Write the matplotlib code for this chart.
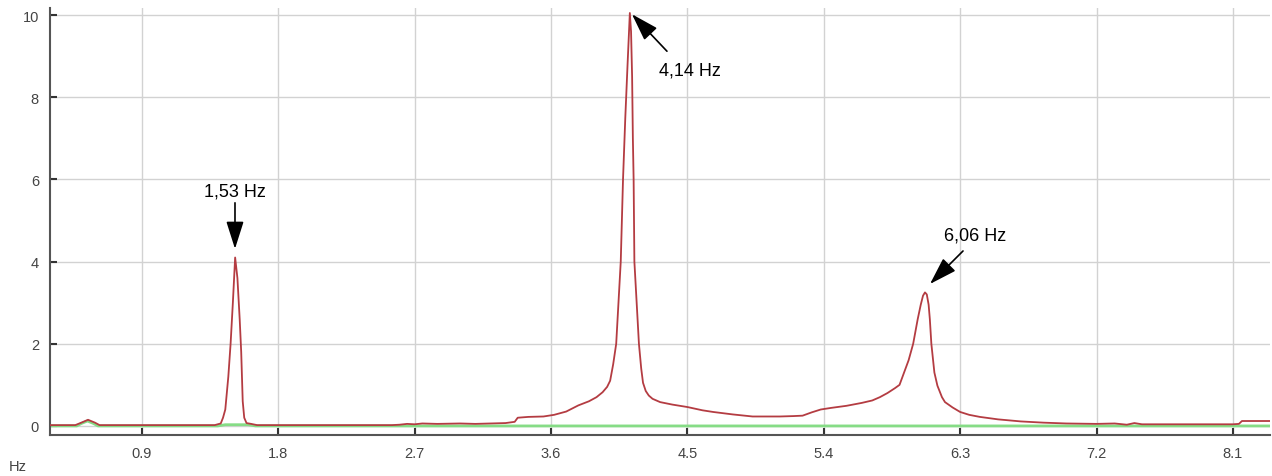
import matplotlib.pyplot as plt

plt.rcParams['font.family'] = ['Liberation Sans', 'DejaVu Sans']

# spectrum (Hz, amplitude)
freq = [0.293, 0.46, 0.50, 0.544, 0.59, 0.62, 1.38, 1.42, 1.435, 1.45, 1.47, 1.485,
        1.50, 1.515, 1.53, 1.545, 1.555, 1.565, 1.575, 1.59, 1.62, 1.66, 2.55, 2.6,
        2.65, 2.7, 2.75, 2.85, 3.0, 3.1, 3.2, 3.3, 3.36, 3.38, 3.45, 3.55, 3.62, 3.7,
        3.78, 3.85, 3.9, 3.94, 3.97, 3.99, 4.01, 4.03, 4.045, 4.06, 4.075, 4.09, 4.105, 4.12,
        4.128, 4.135, 4.14, 4.145, 4.15, 4.165, 4.18, 4.195, 4.207, 4.225, 4.245, 4.27, 4.32, 4.4,
        4.5, 4.6, 4.67, 4.8, 4.93, 5.11, 5.2, 5.26, 5.32, 5.38, 5.45, 5.55, 5.65, 5.72,
        5.77, 5.82, 5.87, 5.90, 5.93, 5.96, 5.99, 6.02, 6.04, 6.055, 6.068, 6.08, 6.092, 6.1, 6.11,
        6.13, 6.15, 6.18, 6.2, 6.25, 6.3, 6.36, 6.43, 6.55, 6.7, 6.85, 7.0, 7.2, 7.32,
        7.4, 7.45, 7.5, 7.8, 8.1, 8.14, 8.16, 8.35]
amp = [0.02, 0.02, 0.08, 0.15, 0.08, 0.02, 0.02, 0.06, 0.2, 0.4, 1.2, 2.0,
       3.0, 4.1, 3.6, 2.6, 1.8, 0.6, 0.2, 0.07, 0.05, 0.02, 0.02, 0.03,
       0.05, 0.04, 0.06, 0.05, 0.06, 0.05, 0.06, 0.07, 0.1, 0.2, 0.22, 0.23, 0.27, 0.35,
       0.5, 0.6, 0.7, 0.82, 0.95, 1.1, 1.5, 2.0, 3.0, 4.0, 6.0, 7.5, 8.8, 10.05,
       9.6, 8.5, 7.0, 6.0, 4.0, 3.0, 2.0, 1.4, 1.05, 0.85, 0.74, 0.66, 0.58, 0.52,
       0.46, 0.38, 0.34, 0.28, 0.23, 0.23, 0.24, 0.25, 0.33, 0.4, 0.44, 0.49, 0.56, 0.62,
       0.7, 0.8, 0.92, 1.0, 1.3, 1.6, 2.0, 2.6, 2.95, 3.17, 3.25, 3.2, 2.95, 2.6, 2.0,
       1.3, 0.98, 0.7, 0.58, 0.45, 0.34, 0.27, 0.22, 0.16, 0.11, 0.08, 0.06, 0.05, 0.06,
       0.03, 0.07, 0.04, 0.04, 0.04, 0.05, 0.12, 0.12]

ref_freq = [0.293, 0.47, 0.50, 0.54, 0.58, 0.61, 1.40, 1.45, 1.60, 1.65, 8.35]
ref_amp = [0.0, 0.0, 0.06, 0.12, 0.06, 0.0, 0.0, 0.03, 0.03, 0.0, 0.0]

xticks = [0.9, 1.8, 2.7, 3.6, 4.5, 5.4, 6.3, 7.2, 8.1]
yticks = [0, 2, 4, 6, 8, 10]

# peaks: label, arrow tip, arrow tail, text position
peaks = [('1,53 Hz', (1.514, 4.31), (1.514, 5.43), (1.514, 5.72)),
         ('4,14 Hz', (4.134, 10.02), (4.365, 9.12), (4.517, 8.66)),
         ('6,06 Hz', (6.101, 3.455), (6.319, 4.258), (6.398, 4.647))]

fig = plt.figure(figsize=(12.72, 4.77), dpi=100)
ax = fig.add_axes([0.0393, 0.086, 0.959, 0.895])

ax.plot(ref_freq, ref_amp, color='#86dc86', lw=2, zorder=2)
ax.plot(freq, amp, color='#b43c42', lw=1.3, zorder=3)

for label, tip, tail, pos in peaks:
    ax.annotate('', xy=tip, xytext=tail,
                arrowprops=dict(arrowstyle='-|>,head_length=0.85,head_width=0.27',
                                mutation_scale=20, color='black', lw=1.2,
                                shrinkA=0, shrinkB=0))
    ax.text(pos[0], pos[1], label, ha='center', va='center', fontsize=13, color='black')

ax.set_xlim(0.293, 8.344)
ax.set_ylim(-0.22, 10.17)
ax.set_xticks(xticks)
ax.set_xticklabels([str(t) for t in xticks])
ax.set_yticks(yticks)
ax.grid(True, color='#d2d2d2', lw=1)
ax.set_axisbelow(True)
for side in ['top', 'right']:
    ax.spines[side].set_visible(False)
for side in ['left', 'bottom']:
    ax.spines[side].set_color('#555555')
    ax.spines[side].set_linewidth(1.5)
ax.tick_params(direction='in', length=5, width=1.5, color='#333333',
               labelcolor='#444444', labelsize=10.5, pad=8)

fig.text(18 / 1272, 1 - 467 / 477, 'Hz', ha='center', va='center', fontsize=10.5, color='#444444')

fig.savefig('out.png', dpi=100)
